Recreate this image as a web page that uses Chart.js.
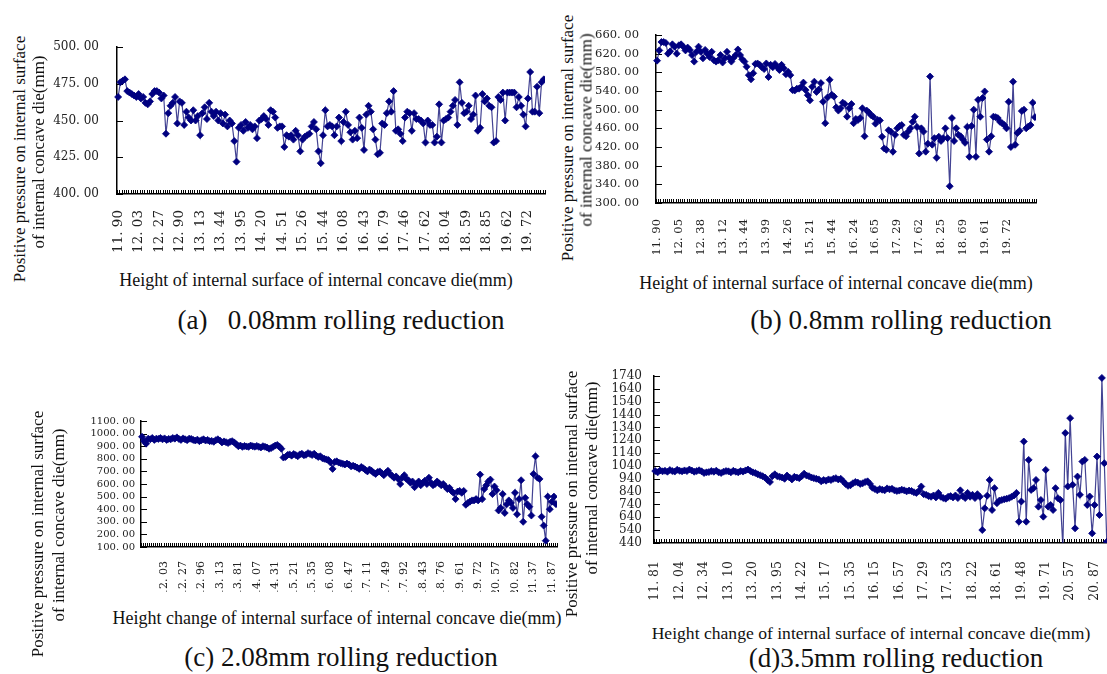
<!DOCTYPE html>
<html>
<head>
<meta charset="utf-8">
<script src="https://cdn.jsdelivr.net/npm/chart.js@4.4.1/dist/chart.umd.min.js"></script>
<style>
  html, body { margin: 0; padding: 0; background: #fff; width: 1107px; height: 674px; overflow: hidden; }
  canvas { position: absolute; }
  .t { position: absolute; white-space: nowrap; line-height: 1; color: #111;
       font-family: "Liberation Serif", "Times New Roman", serif;
       transform: translate(-50%, -50%); }
  .v { transform: translate(-50%, -50%) rotate(-90deg); }
</style>
</head>
<body>
<canvas id="chartA"></canvas>
<canvas id="chartB"></canvas>
<canvas id="chartC"></canvas>
<canvas id="chartD"></canvas>

<!-- axis titles and captions -->
<div class="t v" style="left:19px;top:159px;font-size:17px">Positive pressure on internal surface</div>
<div class="t v" style="left:38px;top:152px;font-size:17px">of internal concave die(mm)</div>
<div class="t" style="left:316px;top:280px;font-size:18px">Height of internal surface of internal concave die(mm)</div>
<div class="t" style="left:341px;top:320px;font-size:27px">(a)&nbsp;&nbsp;&nbsp;0.08mm rolling reduction</div>

<div class="t v" style="left:567px;top:138px;font-size:17px">Positive pressure on internal surface</div>
<div class="t v" style="left:586px;top:130px;font-size:17px">of internal concave die(mm)</div>
<div class="t" style="left:836px;top:283px;font-size:18px">Height of internal surface of internal concave die(mm)</div>
<div class="t" style="left:901px;top:320px;font-size:27px">(b) 0.8mm rolling reduction</div>

<div class="t v" style="left:37px;top:534px;font-size:17px">Positive pressure on internal surface</div>
<div class="t v" style="left:58px;top:525px;font-size:17px">of internal concave die(mm)</div>
<div class="t" style="left:337px;top:618px;font-size:18px">Height change of internal surface of internal concave die(mm)</div>
<div class="t" style="left:341px;top:657px;font-size:27px">(c) 2.08mm rolling reduction</div>

<div class="t v" style="left:571px;top:494px;font-size:17px">Positive pressure on internal surface</div>
<div class="t v" style="left:591px;top:478px;font-size:17px">of internal concave die(mm)</div>
<div class="t" style="left:871px;top:634px;font-size:17.6px">Height change of internal surface of internal concave die(mm)</div>
<div class="t" style="left:896px;top:658px;font-size:27px">(d)3.5mm rolling reduction</div>

<script>
// x tick labels (height of the die surface, mm) - one label every few samples
const heightLabelsA = ['11.90', '12.03', '12.27', '12.90', '13.13', '13.44', '13.95', '14.20', '14.51', '15.26', '15.44',
                       '16.08', '16.43', '16.79', '17.46', '17.62', '18.04', '18.59', '18.85', '19.62', '19.72'];
const heightLabelsB = ['11.90', '12.05', '12.38', '13.12', '13.44', '13.99', '14.26', '15.21', '15.44',
                       '16.24', '16.65', '17.29', '17.62', '18.25', '18.69', '19.61', '19.72'];
const heightLabelsC = ['12.03', '12.27', '12.96', '13.13', '13.81', '14.07', '14.31', '15.21', '15.35', '16.08', '16.47',
                       '17.11', '17.49', '17.92', '18.43', '18.76', '19.61', '19.72', '20.57', '20.82', '21.37', '21.87'];
const heightLabelsD = ['11.81', '12.04', '12.34', '13.10', '13.20', '13.95', '14.22', '15.17', '15.35', '16.15',
                       '16.57', '17.29', '17.53', '18.22', '18.61', '19.48', '19.71', '20.57', '20.87'];

// samples between two labels, and index of the first labelled sample
const labelEveryA = 9,  firstLabelA = 0;
const labelEveryB = 10, firstLabelB = 0;
const labelEveryC = 9,  firstLabelC = 11;
const labelEveryD = 10, firstLabelD = 0;

// positive pressure on internal surface
const pressureA = [
  466, 476, 477, 478, 470, 469, 468, 467, 466, 468, 465, 466, 462, 461, 463, 468, 470, 470, 469, 465, 467, 441,
  455, 460, 462, 466, 448, 463, 462, 447, 456, 452, 450, 457, 450, 453, 440,
  455, 459, 451, 462, 456, 453, 456, 450, 455, 448, 454, 446, 450, 448, 436, 422,
  445, 447, 443, 449, 445, 447, 444, 446, 438, 450, 451, 453, 451, 447, 457, 456, 452, 445, 446, 446, 432,
  440, 439, 440, 437, 443, 440, 429, 437, 439, 440, 441, 446, 449, 444, 429, 421,
  440, 457, 446, 447, 446, 440, 446, 452, 436, 449, 456, 447, 442, 437, 443, 438, 452, 445, 430,
  454, 460, 456, 444, 437, 427, 428, 448, 447, 455, 463, 456, 470,
  443, 444, 441, 436, 452, 456, 455, 443, 455, 451, 451, 450, 448, 435,
  450, 447, 447, 435, 439, 461, 435, 450, 451, 452, 456, 460, 464, 447, 476,
  462, 455, 456, 460, 451, 454, 467, 443, 445, 468, 463, 465, 460, 459, 435, 436,
  466, 464, 469, 450, 469, 469, 469, 469, 459, 466, 460, 454, 446, 465, 483,
  456, 456, 473, 455, 476, 478
];
const pressureB = [
  605, 627, 645, 645, 643, 620, 625, 640, 635, 620, 638, 640, 635, 627, 633, 628, 617, 603, 624, 635,
  624, 610, 628, 620, 613, 624, 606, 603, 606, 617, 601, 610, 624, 611, 603, 611, 617, 629, 617, 608,
  603, 592, 574, 565, 578, 598, 599, 596, 591, 587, 599, 570, 596, 591, 598, 591, 585, 596, 589, 576,
  581, 574, 542, 541, 545, 545, 549, 558, 542, 531, 520, 549, 560, 538, 543,
  557, 517, 471, 526, 564, 532, 528, 505, 498, 503, 515, 512, 485, 503, 512, 471, 480, 478, 482, 503,
  443, 498, 494, 488, 485, 470, 478, 477, 442, 417, 414, 456, 453, 410, 446, 460, 465, 467, 446, 443,
  453, 460, 474, 485, 463, 406, 460, 453, 410, 427, 571, 425, 439, 397, 442, 433, 439, 460, 439, 336,
  482, 433, 460, 446, 443, 436, 429, 463, 399, 465, 500, 399, 521, 485, 525, 539, 436, 410, 443, 485,
  484, 482, 474, 471, 467, 460, 517, 420, 560, 425, 450,
  455, 497, 500, 460, 464, 467, 515, 484
];
const pressureC = [
  975, 940, 920, 960, 955, 965, 950, 960, 958, 965, 955,
  962, 950, 958, 955, 965, 960, 970, 958, 950,
  962, 955, 948, 960, 958, 950, 945, 952, 940,
  948, 955, 945, 950, 940, 942, 935, 948, 955,
  945, 930, 938, 932, 925, 935, 940, 930, 915,
  900, 905, 895, 902, 898, 895, 905, 900, 896,
  902, 895, 890, 900, 895, 890, 880, 885, 895,
  905, 910, 898, 880, 810, 815, 830, 835, 825,
  838, 830, 820, 835, 840, 828, 832, 845, 838,
  830, 840, 825, 815, 820, 805, 800, 795, 790,
  770, 720, 775, 780, 770, 765, 760, 755, 762,
  755, 740, 745, 738, 730, 720, 735, 725, 712,
  700, 715, 705, 690, 680, 695, 700, 685, 670,
  690, 705, 680, 665, 650, 660, 640, 600, 650,
  670, 640, 630, 610, 620, 575, 600, 620, 590,
  610, 625, 600, 650, 610, 590, 600, 620, 605,
  590, 600, 580, 560, 570, 545, 530, 480, 540,
  545, 530, 545, 435, 450, 460, 470, 470, 480,
  470, 675, 480, 560, 590, 620, 635, 520, 580,
  550, 390, 410, 520, 370, 440, 470, 450, 410,
  530, 360, 480, 630, 300, 490, 440, 420, 350,
  680, 820, 650, 640, 340, 270, 150, 500, 400, 460, 500, 440
];
const pressureD = [
  1000, 990, 1005, 998, 1002, 995, 1008, 1000, 996, 1010, 1002, 998, 1005, 1000, 1012, 1004, 995, 1000, 1006, 998,
  985, 990, 992, 1000, 995, 1003, 990, 985, 995, 1000, 998, 990, 1002, 995, 990, 1000, 996, 1005, 1012, 1000,
  990, 985, 975, 968, 960, 950, 930, 915, 960,
  975, 960, 955, 950, 940, 965, 950, 935, 955, 950, 945, 960,
  980, 965, 960, 950, 945, 940, 935, 920, 930, 925,
  935, 930, 940, 945, 935, 940, 920, 900, 885, 890,
  905, 915, 910, 900, 905, 915, 920, 900, 870, 860,
  850, 860, 855, 850, 865, 858, 862, 850, 845, 848,
  855, 850, 842, 848, 845, 835, 830, 845, 880, 820,
  815, 805, 800, 810, 795, 830, 800, 790, 785, 800, 805, 795, 810, 790, 850, 805, 790, 830, 800, 815, 790, 820, 800,
  541, 710, 808, 931, 697, 867, 750, 770, 775, 780, 785, 790, 800, 810, 830, 606, 763, 1230, 606, 1087,
  853, 867, 931, 723, 775, 645, 1009, 723, 736, 697, 867, 789, 775, 411, 1296, 880, 1412, 893, 554, 957,
  815, 1074, 1087, 736, 802, 515, 736, 1113, 658, 1725, 1061, 450
];

// short inward tick marks on both axes, like the spreadsheet original
const innerTicks = {
  id: 'innerTicks',
  beforeDatasetsDraw(chart) {
    const { ctx, chartArea: a, scales: { x, y } } = chart;
    ctx.save();
    ctx.strokeStyle = '#000';
    ctx.lineWidth = 1;
    ctx.beginPath();
    y.ticks.forEach(t => {
      const py = Math.round(y.getPixelForValue(t.value)) + 0.5;
      ctx.moveTo(a.left, py);
      ctx.lineTo(a.left + 6, py);
    });
    for (let i = 0; i <= x.ticks.length; i++) {
      const px = Math.round(x.getPixelForValue(i - 0.5)) + 0.5;
      ctx.moveTo(px, a.bottom);
      ctx.lineTo(px, a.bottom - 4);
    }
    ctx.stroke();
    ctx.restore();
  }
};

function buildCategories(tickLabels, count, every, first) {
  const cats = [];
  for (let i = 0; i < count; i++) {
    const k = (i - first) / every;
    cats.push(i >= first && Number.isInteger(k) && k < tickLabels.length ? tickLabels[k] : '');
  }
  return cats;
}

function drawPanel(p) {
  const cv = document.getElementById(p.id);
  cv.width = p.box.w;
  cv.height = p.box.h;
  cv.style.left = p.box.x + 'px';
  cv.style.top = p.box.y + 'px';
  const cats = buildCategories(p.labels, p.values.length, p.every, p.first);
  const xAxisHeight = p.box.y + p.box.h - p.plot.y1;
  const yAxisWidth = p.plot.x0 - p.box.x;

  new Chart(cv, {
    type: 'line',
    data: {
      labels: cats,
      datasets: [{
        data: p.values,
        borderColor: 'rgba(20, 20, 120, 0.8)',
        borderWidth: 1.2,
        pointStyle: 'rectRot',
        pointRadius: 3.5,
        pointBorderWidth: 0.8,
        pointBackgroundColor: '#000080',
        pointBorderColor: '#000080',
        tension: 0,
        fill: false,
        clip: { left: 5, top: 5, right: 0, bottom: 0 }
      }]
    },
    options: {
      responsive: false,
      animation: false,
      layout: {
        autoPadding: false,
        padding: { left: 0, bottom: 0, top: p.plot.y0 - p.box.y, right: p.box.x + p.box.w - p.plot.x1 }
      },
      plugins: { legend: { display: false }, tooltip: { enabled: false } },
      scales: {
        x: {
          type: 'category',
          offset: true,
          grid: { display: true, drawOnChartArea: false, drawTicks: false },
          border: { color: '#000', width: 1.5 },
          ticks: {
            autoSkip: false, minRotation: 90, maxRotation: 90,
            padding: p.xPad, color: '#222',
            font: { family: 'DejaVu Serif', size: p.xFont },
            callback: (v, i) => cats[i].replace('.', '. ')
          },
          afterFit: s => { s.height = xAxisHeight; s.paddingLeft = 0; s.paddingRight = 0; }
        },
        y: {
          min: p.min, max: p.max,
          grid: { display: true, drawOnChartArea: false, drawTicks: false },
          border: { color: '#000', width: 1.5 },
          ticks: {
            stepSize: p.step, maxTicksLimit: 20, autoSkip: false,
            padding: p.yPad, color: '#222',
            font: { family: 'DejaVu Serif', size: p.yFont },
            callback: v => p.decimals ? v.toFixed(2).replace('.', '. ') : String(v)
          },
          afterFit: s => { s.width = yAxisWidth; s.paddingTop = 0; s.paddingBottom = 0; }
        }
      }
    },
    plugins: [innerTicks]
  });
}

drawPanel({ id: 'chartA', labels: heightLabelsA, every: labelEveryA, first: firstLabelA, values: pressureA,
  min: 400, max: 500, step: 25, decimals: true,
  box: { x: 40, y: 25, w: 510, h: 237 }, plot: { x0: 117, y0: 47, x1: 545, y1: 194 },
  xPad: 16, yPad: 18, xFont: 13.5, yFont: 12 });

drawPanel({ id: 'chartB', labels: heightLabelsB, every: labelEveryB, first: firstLabelB, values: pressureB,
  min: 300, max: 660, step: 40, decimals: true,
  box: { x: 590, y: 10, w: 455, h: 252 }, plot: { x0: 656, y0: 35, x1: 1036, y1: 203 },
  xPad: 16, yPad: 17, xFont: 11.5, yFont: 11.5 });

drawPanel({ id: 'chartC', labels: heightLabelsC, every: labelEveryC, first: firstLabelC, values: pressureC,
  min: 100, max: 1100, step: 100, decimals: true,
  box: { x: 60, y: 405, w: 502, h: 187 }, plot: { x0: 141, y0: 421, x1: 557, y1: 547 },
  xPad: 14, yPad: 6, xFont: 11, yFont: 10 });

drawPanel({ id: 'chartD', labels: heightLabelsD, every: labelEveryD, first: firstLabelD, values: pressureD,
  min: 440, max: 1740, step: 100, decimals: false,
  box: { x: 600, y: 360, w: 510, h: 252 }, plot: { x0: 654, y0: 376, x1: 1108, y1: 543 },
  xPad: 18, yPad: 12, xFont: 12.5, yFont: 12 });
</script>
</body>
</html>
